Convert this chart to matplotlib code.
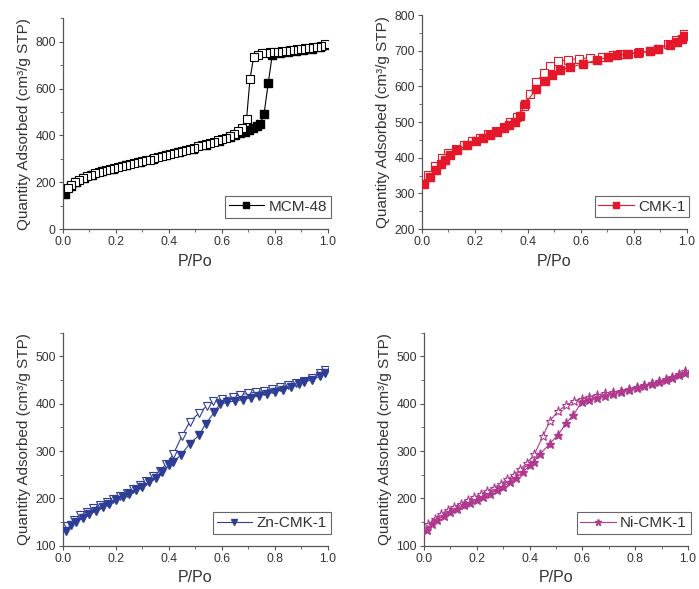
"""N2 sorption isotherms: MCM-48, CMK-1, Zn-CMK-1, Ni-CMK-1."""

import matplotlib
matplotlib.use('Agg')
import matplotlib.pyplot as plt
from matplotlib.ticker import MultipleLocator

plt.rcParams['font.family'] = ['Liberation Sans', 'DejaVu Sans']

# %% data
# MCM-48
mcm_ads_x = [0.01, 0.03, 0.05, 0.08, 0.11, 0.15, 0.19, 0.24, 0.29, 0.34,
             0.39, 0.44, 0.49, 0.54, 0.59, 0.63, 0.65, 0.668, 0.687, 0.703,
             0.718, 0.731, 0.744, 0.759, 0.775, 0.79, 0.82, 0.85, 0.88, 0.907,
             0.94, 0.97, 0.99]
mcm_ads_y = [150, 185, 203, 220, 233, 247, 258, 272, 286, 300,
             315, 330, 344, 360, 377, 392, 400, 409, 416, 423,
             430, 440, 449, 491, 625, 743, 752, 757, 762, 765,
             770, 777, 787]
mcm_des_x = [0.99, 0.975, 0.96, 0.945, 0.93, 0.915, 0.90, 0.885, 0.87, 0.855,
             0.84, 0.825, 0.81, 0.795, 0.78, 0.765, 0.75, 0.735, 0.72,
             0.706, 0.693, 0.677, 0.66, 0.645,
             0.63, 0.615, 0.60, 0.585, 0.57, 0.555, 0.54, 0.525, 0.51, 0.495,
             0.48, 0.465, 0.45, 0.435, 0.42, 0.405, 0.39, 0.375, 0.36, 0.345,
             0.33, 0.315, 0.30, 0.285, 0.27, 0.255, 0.24, 0.225, 0.21, 0.195,
             0.18, 0.165, 0.15, 0.135, 0.12, 0.105, 0.09, 0.075, 0.06, 0.045,
             0.03, 0.02]
mcm_des_y = [789, 782, 779, 776, 774, 772, 770, 768, 766, 764,
             762, 760, 758, 756, 754, 752, 750, 745, 736,
             640, 469, 430, 417, 407,
             398, 391, 385, 379, 373, 368, 363, 358, 353, 348,
             343, 338, 333, 329, 324, 320, 315, 311, 306, 302,
             297, 293, 289, 285, 281, 277, 273, 269, 265, 261,
             257, 252, 248, 243, 238, 232, 226, 219, 211, 201,
             189, 175]

# CMK-1
cmk_ads_x = [0.008, 0.031, 0.054, 0.072, 0.088, 0.107, 0.134, 0.172, 0.205, 0.232,
             0.258, 0.283, 0.31, 0.33, 0.352, 0.371, 0.389, 0.433, 0.465, 0.49,
             0.52, 0.56, 0.61, 0.66, 0.704, 0.736, 0.774, 0.817, 0.862, 0.893,
             0.937, 0.962, 0.981, 0.994]
cmk_ads_y = [326, 345, 367, 383, 395, 407, 421, 435, 447, 456,
             464, 472, 482, 491, 500, 517, 550, 593, 614, 632,
             645, 654, 663, 674, 682, 687, 690, 694, 698, 706,
             717, 725, 734, 742]
cmk_des_x = [0.99, 0.96, 0.93, 0.89, 0.86, 0.82, 0.78, 0.75, 0.72, 0.68,
             0.635, 0.595, 0.553, 0.516, 0.484, 0.461, 0.43, 0.408, 0.385, 0.36,
             0.335, 0.31, 0.28, 0.25, 0.22, 0.19, 0.16, 0.13, 0.10, 0.075,
             0.05, 0.025]
cmk_des_y = [748, 730, 718, 706, 699, 695, 692, 690, 687, 683,
             680, 678, 675, 670, 658, 637, 612, 578, 545, 515,
             500, 487, 476, 466, 456, 446, 436, 425, 413, 398,
             378, 352]

# Zn-CMK-1
zn_ads_x = [0.01, 0.03, 0.05, 0.075, 0.10, 0.125, 0.15, 0.175, 0.20, 0.225,
            0.25, 0.275, 0.30, 0.325, 0.35, 0.375, 0.40, 0.415, 0.444, 0.479,
            0.513, 0.538, 0.571, 0.592, 0.62, 0.65, 0.68, 0.71, 0.74, 0.77,
            0.80, 0.83, 0.86, 0.89, 0.91, 0.94, 0.97, 0.99]
zn_ads_y = [132, 143, 150, 158, 166, 174, 181, 188, 196, 203,
            210, 217, 225, 234, 244, 256, 270, 277, 291, 316,
            333, 357, 382, 399, 403, 406, 409, 413, 417, 421,
            425, 430, 435, 441, 445, 451, 458, 466]
zn_des_x = [0.99, 0.97, 0.94, 0.91, 0.88, 0.85, 0.82, 0.79, 0.76, 0.73,
            0.70, 0.67, 0.64, 0.599, 0.567, 0.542, 0.513, 0.479, 0.448, 0.416,
            0.39, 0.365, 0.34, 0.315, 0.29, 0.265, 0.24, 0.215, 0.19, 0.165,
            0.14, 0.115, 0.09, 0.065, 0.04, 0.015]
zn_des_y = [472, 465, 455, 449, 443, 439, 435, 431, 428, 425,
            422, 419, 415, 411, 406, 395, 380, 362, 331, 293,
            273, 258, 247, 237, 228, 220, 212, 205, 199, 193,
            186, 179, 172, 164, 154, 142]

# Ni-CMK-1
ni_ads_x = [0.01, 0.03, 0.05, 0.075, 0.10, 0.125, 0.15, 0.175, 0.20, 0.225,
            0.25, 0.275, 0.30, 0.325, 0.35, 0.375, 0.40, 0.415, 0.439, 0.477,
            0.509, 0.538, 0.566, 0.597, 0.625, 0.655, 0.685, 0.715, 0.745, 0.775,
            0.805, 0.835, 0.865, 0.89, 0.915, 0.94, 0.965, 0.99]
ni_ads_y = [133, 145, 155, 163, 171, 178, 185, 191, 197, 203,
            210, 217, 225, 234, 244, 256, 270, 277, 293, 316,
            335, 359, 376, 404, 409, 413, 417, 421, 425, 429,
            433, 437, 441, 446, 450, 455, 460, 466]
ni_des_x = [0.99, 0.965, 0.94, 0.915, 0.89, 0.865, 0.835, 0.805, 0.775, 0.745,
            0.715, 0.685, 0.655, 0.625, 0.597, 0.568, 0.538, 0.509, 0.477, 0.45,
            0.418, 0.39, 0.365, 0.34, 0.315, 0.29, 0.265, 0.24, 0.215, 0.19,
            0.165, 0.14, 0.115, 0.09, 0.065, 0.04, 0.015]
ni_des_y = [470, 463, 457, 452, 448, 444, 440, 436, 432, 428,
            425, 422, 419, 415, 411, 406, 397, 385, 364, 331,
            293, 275, 262, 250, 240, 231, 223, 216, 209, 202,
            196, 189, 182, 175, 166, 157, 145]

# %% figure
fig = plt.figure(figsize=(6.99, 5.89), dpi=100)

panels = [
    # rect, label, color, marker, ads, des, ylim, major, minor, open_on_top
    ([0.0897, 0.611, 0.3795, 0.358], 'MCM-48', 'black', 's',
     (mcm_ads_x, mcm_ads_y), (mcm_des_x, mcm_des_y), (0, 900), 200, 100, True),
    ([0.6033, 0.611, 0.3791, 0.3635], 'CMK-1', '#e3192b', 's',
     (cmk_ads_x, cmk_ads_y), (cmk_des_x, cmk_des_y), (200, 800), 100, 50, False),
    ([0.0901, 0.0735, 0.379, 0.3615], 'Zn-CMK-1', '#2e3d96', 'v',
     (zn_ads_x, zn_ads_y), (zn_des_x, zn_des_y), (100, 550), 100, 50, False),
    ([0.6066, 0.0735, 0.3777, 0.3615], 'Ni-CMK-1', '#b0398e', '*',
     (ni_ads_x, ni_ads_y), (ni_des_x, ni_des_y), (100, 550), 100, 50, False),
]

for rect, name, color, marker, ads, des, ylim, major, minor, open_top in panels:
    ax = fig.add_axes(rect)
    ms = 6.5 if marker == '*' else 5.2
    z_ads, z_des = (2, 3) if open_top else (3, 2)
    ax.plot(ads[0], ads[1], color=color, lw=0.8, marker=marker, ms=ms,
            mfc=color, mec=color, zorder=z_ads, label=name)
    ax.plot(des[0], des[1], color=color, lw=0.8, marker=marker, ms=ms,
            mfc='white', mec=color, mew=0.8, zorder=z_des)

    ax.set_xlim(0, 1.0)
    ax.set_ylim(*ylim)
    ax.xaxis.set_major_locator(MultipleLocator(0.2))
    ax.xaxis.set_minor_locator(MultipleLocator(0.1))
    ax.yaxis.set_major_locator(MultipleLocator(major))
    ax.yaxis.set_minor_locator(MultipleLocator(minor))
    ax.xaxis.set_major_formatter(plt.FuncFormatter(lambda v, p: f'{v:.1f}'))

    for s in ('top', 'right'):
        ax.spines[s].set_visible(False)
    for s in ('left', 'bottom'):
        ax.spines[s].set_color('#555555')
        ax.spines[s].set_linewidth(0.9)
    ax.tick_params(which='major', direction='out', length=3, width=0.8,
                   color='#555555', labelsize=8.8, labelcolor='#333333', pad=2)
    ax.tick_params(which='minor', direction='out', length=2, width=0.6,
                   color='#555555')

    ax.set_xlabel('P/Po', fontsize=11.5, color='#333333', labelpad=4)
    ax.set_ylabel('Quantity Adsorbed (cm³/g STP)', fontsize=11,
                  color='#333333', labelpad=3)

    leg = ax.legend(loc='lower right', bbox_to_anchor=(1.01, 0.055),
                    borderaxespad=0, fontsize=11, handlelength=2.3,
                    handletextpad=0.3, borderpad=0.25, markerscale=0.7,
                    fancybox=False, framealpha=1)
    leg.get_frame().set_edgecolor('#666666')
    leg.get_frame().set_linewidth(0.8)
    for t in leg.get_texts():
        t.set_color('#333333')

fig.savefig('out.png', dpi=100)
